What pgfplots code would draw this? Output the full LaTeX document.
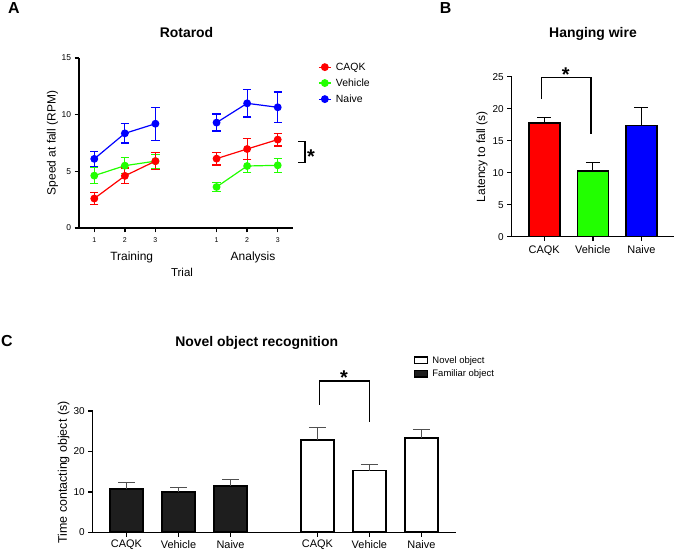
\documentclass[border=0pt]{standalone}
\usepackage{fontspec}
\setmainfont{Liberation Sans}
\usepackage{pgfplots}
\pgfplotsset{compat=1.18}

\definecolor{cRed}{RGB}{255,0,0}
\definecolor{cGreen}{RGB}{34,255,0}
\definecolor{cBlue}{RGB}{0,0,255}
\definecolor{famfill}{RGB}{30,30,30}
\definecolor{errgray}{RGB}{80,80,80}

\newcommand{\fs}[1]{\fontsize{#1}{#1}\selectfont}

\tikzset{sigstar/.style={anchor=base, inner sep=0pt, font=\bfseries\fs{20}, yshift=-11.5bp}}

\pgfplotsset{
  prism/.style={
    scale only axis,
    anchor=south west,
    axis lines*=left,
    axis line style={-, line width=1.3bp, black},
    tick align=outside,
    major tick length=4.5bp,
    tick style={line width=1.3bp, black},
    /pgf/number format/assume math mode=true,
    clip=false,
  },
  % series style for the line plot: colour, round marks, capped error bars
  grp/.style={
    color=#1, line width=1.2bp, mark=*, mark size=3.3bp,
    mark options={solid, fill=#1, draw=#1},
    error bars/y dir=both, error bars/y explicit,
    error bars/error bar style={line width=1.2bp, #1},
    error bars/error mark options={rotate=90, mark size=4.2bp, line width=1.2bp, #1},
  },
  % upward error bar with a cap
  upbar/.style 2 args={
    error bars/y dir=plus, error bars/y explicit,
    error bars/error bar style={line width=0.9bp, #1},
    error bars/error mark options={rotate=90, mark size=#2, line width=0.9bp, #1},
  },
}

\begin{document}
\begin{tikzpicture}
\useasboundingbox (0,0) rectangle (674bp,552bp);

% ---------------- Rotarod ----------------
\begin{axis}[prism,
  at={(79bp,324bp)}, width=214bp, height=170bp,
  xmin=0.5, xmax=7.5, ymin=0, ymax=15,
  ytick={0,5,10,15},
  xtick={1,2,3,5,6,7}, xticklabels={1,2,3,1,2,3},
  yticklabel style={font=\fs{8.5}},
  xticklabel style={font=\fs{7}, yshift=-1.5bp},
  legend style={at={(axis description cs:1.117,0.985)}, anchor=north west,
    draw=none, fill=none, font=\fs{10.5}, row sep=3bp, inner sep=0pt,
    cells={anchor=west}, nodes={inner xsep=4.5bp}},
  legend image code/.code={\draw[mark repeat=2,mark phase=2,#1]
    plot coordinates {(0bp,0bp) (6bp,0bp) (12bp,0bp)};},
]
\addlegendimage{cRed, line width=1.2bp, mark=*, mark size=3.3bp, mark options={fill=cRed}}
\addlegendentry{CAQK}
\addlegendimage{cGreen, line width=1.2bp, mark=*, mark size=3.3bp, mark options={fill=cGreen}}
\addlegendentry{Vehicle}
\addlegendimage{cBlue, line width=1.2bp, mark=*, mark size=3.3bp, mark options={fill=cBlue}}
\addlegendentry{Naive}

% Vehicle
\addplot[forget plot, grp=cGreen] coordinates {(1,4.62) +- (0,0.70) (2,5.50) +- (0,0.70) (3,5.90) +- (0,0.62)};
\addplot[forget plot, grp=cGreen] coordinates {(5,3.62) +- (0,0.40) (6,5.47) +- (0,0.60) (7,5.53) +- (0,0.60)};
% CAQK
\addplot[forget plot, grp=cRed] coordinates {(1,2.60) +- (0,0.55) (2,4.60) +- (0,0.70) (3,5.90) +- (0,0.75)};
\addplot[forget plot, grp=cRed] coordinates {(5,6.12) +- (0,0.57) (6,6.97) +- (0,0.90) (7,7.80) +- (0,0.57)};
% Naive
\addplot[forget plot, grp=cBlue] coordinates {(1,6.10) +- (0,0.65) (2,8.35) +- (0,0.85) (3,9.20) +- (0,1.45)};
\addplot[forget plot, grp=cBlue] coordinates {(5,9.30) +- (0,0.75) (6,11.00) +- (0,1.20) (7,10.65) +- (0,1.35)};

\draw[line width=1.4bp] (axis cs:7.664,7.65) -- (axis cs:7.893,7.65)
  -- (axis cs:7.893,5.76) -- (axis cs:7.664,5.76);
\node[sigstar] at (axis cs:8.09,6.7) {*};
\end{axis}

% ---------------- Hanging wire ----------------
\begin{axis}[prism,
  at={(511.7bp,315.3bp)}, width=162.3bp, height=160bp,
  xmin=-0.67, xmax=2.67, ymin=0, ymax=25,
  ytick={0,5,10,15,20,25},
  xtick={0,1,2}, xticklabels={CAQK,Vehicle,Naive},
  yticklabel style={font=\fs{10}},
  xticklabel style={font=\fs{11}, yshift=-1bp},
  ybar, bar width=31bp, bar shift=0pt,
]
\addplot[fill=cRed, draw=black, line width=1.6bp, upbar={black}{7bp}] coordinates {(0,17.77) +- (0,0.83)};
\addplot[fill=cGreen, draw=black, line width=1.6bp, upbar={black}{7bp}] coordinates {(1,10.27) +- (0,1.33)};
\addplot[fill=cBlue, draw=black, line width=1.6bp, upbar={black}{7bp}] coordinates {(2,17.35) +- (0,2.85)};

\draw[line width=1.6bp] (axis cs:-0.06,21.5) -- (axis cs:-0.06,24.9)
  -- (axis cs:0.96,24.9) -- (axis cs:0.96,16.0);
\node[sigstar] at (axis cs:0.44,26.05) {*};
\end{axis}

% ---------------- Novel object recognition ----------------
\begin{axis}[prism,
  at={(92.7bp,19.7bp)}, width=363bp, height=121.3bp,
  xmin=-0.65, xmax=6.33, ymin=0, ymax=30,
  ytick={0,10,20,30},
  xtick={0,1,2,3.67,4.67,5.67},
  xticklabels={CAQK,Vehicle,Naive,CAQK,Vehicle,Naive},
  yticklabel style={font=\fs{10}},
  xticklabel style={font=\fs{11}},
  ybar, bar width=33bp, bar shift=0pt,
  legend style={at={(axis description cs:0.885,1.47)}, anchor=north west,
    draw=none, fill=none, font=\fs{9.5}, row sep=1bp, inner sep=0pt,
    cells={anchor=west}, nodes={inner xsep=4bp}},
  legend image code/.code={\draw[#1, line width=1.3bp] (0bp,-3.3bp) rectangle (13bp,3.3bp);},
]
% Novel object
\addplot[fill=white, draw=black, line width=1.6bp, upbar={errgray}{8.5bp}]
  coordinates {(3.67,22.85) +- (0,3.15) (4.67,15.25) +- (0,1.50) (5.67,23.27) +- (0,2.23)};
\addlegendentry{Novel object}
% Familiar object
\addplot[fill=famfill, draw=black, line width=1.6bp, upbar={errgray}{8.5bp}]
  coordinates {(0,10.64) +- (0,1.76) (1,9.98) +- (0,1.12) (2,11.46) +- (0,1.49)};
\addlegendentry{Familiar object}

\draw[line width=1.6bp] (axis cs:3.71,31.5) -- (axis cs:3.71,37.45)
  -- (axis cs:4.67,37.45) -- (axis cs:4.67,27.3);
\node[sigstar] at (axis cs:4.18,39.5) {*};
\end{axis}

% ---------------- panel letters, titles, axis labels ----------------
\begin{scope}[every node/.style={inner sep=0pt}]
\node[font=\bfseries\fs{16}] at (14bp,544bp) {A};
\node[font=\bfseries\fs{16}] at (445.5bp,544bp) {B};
\node[font=\bfseries\fs{16}] at (7bp,210.5bp) {C};

\node[font=\bfseries\fs{14}] at (186.5bp,519bp) {Rotarod};
\node[font=\bfseries\fs{14}] at (593bp,518bp) {Hanging wire};
\node[font=\bfseries\fs{14}] at (256.7bp,209bp) {Novel object recognition};

\node[font=\fs{12}, rotate=90] at (52.5bp,409bp) {Speed at fall (RPM)};
\node[font=\fs{12}] at (131.7bp,295bp) {Training};
\node[font=\fs{12}] at (253bp,295bp) {Analysis};
\node[font=\fs{11.5}] at (182bp,280bp) {Trial};

\node[font=\fs{12}, rotate=90] at (482bp,395.3bp) {Latency to fall (s)};
\node[font=\fs{12.5}, rotate=90] at (63.7bp,79.5bp) {Time contacting object (s)};
\end{scope}
\end{tikzpicture}
\end{document}
